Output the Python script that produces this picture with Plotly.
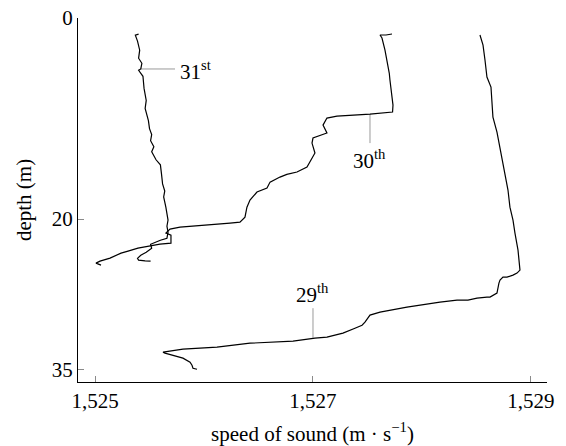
import plotly.graph_objects as go

# ---- data (speed of sound in m/s, depth in m) ----
speed_31 = [1525.40, 1525.37, 1525.39, 1525.41, 1525.40, 1525.43, 1525.42, 1525.40, 1525.44, 1525.45,
            1525.47, 1525.46, 1525.49, 1525.50, 1525.52, 1525.51, 1525.54, 1525.52, 1525.56, 1525.60,
            1525.61, 1525.62, 1525.64, 1525.63, 1525.65, 1525.66, 1525.67, 1525.66, 1525.67, 1525.66,
            1525.60, 1525.51, 1525.52, 1525.47, 1525.42, 1525.39, 1525.40, 1525.46, 1525.51]
depth_31 = [1.60, 1.70, 2.30, 3.20, 4.00, 4.50, 5.07, 5.20, 5.80, 7.00,
            8.20, 9.00, 10.20, 11.00, 11.60, 12.20, 12.80, 13.30, 14.10, 14.60,
            15.50, 16.50, 17.20, 17.80, 18.80, 19.50, 20.10, 20.70, 21.30, 21.90,
            22.10, 22.50, 22.90, 23.30, 23.60, 23.90, 24.08, 24.15, 24.18]

speed_30 = [1527.725, 1527.670, 1527.615, 1527.633, 1527.660, 1527.675, 1527.688, 1527.700, 1527.706, 1527.720,
            1527.734, 1527.730, 1527.523, 1527.220, 1527.156, 1527.128, 1527.092, 1527.128, 1527.000, 1526.991,
            1527.018, 1526.991, 1526.945, 1526.853, 1526.760, 1526.697, 1526.606, 1526.578, 1526.486, 1526.422,
            1526.394, 1526.376, 1526.330, 1526.239, 1525.780, 1525.688, 1525.651, 1525.697, 1525.697, 1525.596,
            1525.505, 1525.394, 1525.303, 1525.239, 1525.138, 1525.046, 1525.009, 1525.055]
depth_30 = [1.59, 1.69, 1.69, 1.99, 3.18, 4.00, 4.68, 5.50, 6.17, 7.66,
            8.66, 9.35, 9.55, 9.75, 9.85, 9.95, 10.65, 11.44, 11.94, 12.44,
            13.43, 13.93, 14.83, 15.32, 15.55, 15.82, 16.32, 16.92, 17.31, 18.11,
            18.81, 19.80, 20.30, 20.40, 20.80, 21.00, 21.39, 21.59, 22.39, 22.49,
            22.69, 22.89, 23.18, 23.38, 23.88, 24.18, 24.38, 24.58]

speed_29 = [1528.532, 1528.560, 1528.578, 1528.596, 1528.633, 1528.651, 1528.688, 1528.716, 1528.761, 1528.789,
            1528.807, 1528.835, 1528.853, 1528.881, 1528.890, 1528.899, 1528.872, 1528.835, 1528.780, 1528.743,
            1528.716, 1528.706, 1528.688, 1528.670, 1528.624, 1528.596, 1528.505, 1528.422, 1528.321, 1528.165,
            1527.862, 1527.615, 1527.523, 1527.477, 1527.450, 1527.385, 1527.339, 1527.275, 1527.128, 1527.018,
            1526.817, 1526.422, 1526.119, 1525.807, 1525.624, 1525.642, 1525.807, 1525.844, 1525.872, 1525.890,
            1525.899, 1525.936]
depth_29 = [1.69, 2.69, 4.18, 5.87, 6.87, 9.85, 11.34, 12.84, 15.42, 17.11,
            18.81, 20.10, 21.39, 23.08, 24.08, 25.07, 25.37, 25.57, 25.77, 25.77,
            26.07, 26.37, 27.36, 27.46, 27.76, 27.76, 27.86, 28.06, 28.06, 28.26,
            28.76, 29.25, 29.55, 30.25, 30.55, 30.85, 31.04, 31.34, 31.74, 31.84,
            32.14, 32.34, 32.74, 32.94, 33.23, 33.33, 33.83, 34.03, 34.23, 34.53,
            34.83, 34.93]

x_ticks = [1525, 1527, 1529]
x_tick_labels = ["1,525", "1,527", "1,529"]
y_ticks = [0, 20, 35]
y_tick_labels = ["0", "20", "35"]

# label pointers and label positions
label_names = ["31<sup>st</sup>", "30<sup>th</sup>", "29<sup>th</sup>"]
pointer_x = [[1525.42, 1525.734], [1527.523, 1527.523], [1527.0, 1527.0]]
pointer_y = [[5.07, 5.07], [9.55, 12.44], [31.80, 28.86]]
label_pos_x = [1525.76, 1527.523, 1527.0]
label_pos_y = [5.2, 14.1, 27.4]
label_anchor = ["left", "center", "center"]

FONT = "Liberation Serif"
FS = 21
fig = go.Figure()

for px_, py_ in zip(pointer_x, pointer_y):
    fig.add_trace(go.Scatter(x=px_, y=py_, mode="lines",
                             line=dict(color="#9a9a9a", width=1), hoverinfo="skip"))

for xs, ys in [(speed_31, depth_31), (speed_30, depth_30), (speed_29, depth_29)]:
    fig.add_trace(go.Scatter(x=xs, y=ys, mode="lines",
                             line=dict(color="black", width=1.2)))

for t, lx, ly, a in zip(label_names, label_pos_x, label_pos_y, label_anchor):
    fig.add_annotation(x=lx, y=ly, text=t, showarrow=False, xanchor=a, yanchor="middle",
                       font=dict(family=FONT, size=FS, color="black"))

axis_common = dict(showgrid=False, zeroline=False, showline=True, linecolor="black", linewidth=1,
                   ticks="inside", ticklen=6, tickcolor="#8a8a8a", tickwidth=1, automargin=False,
                   tickfont=dict(family=FONT, size=FS, color="black"))

fig.update_layout(
    width=566, height=446,
    margin=dict(l=78, r=19, t=18, b=64),
    plot_bgcolor="white", paper_bgcolor="white",
    showlegend=False,
    xaxis=dict(range=[1524.844, 1529.147], tickvals=x_ticks, ticktext=x_tick_labels,
               title=dict(text="speed of sound (m · s<sup>−1</sup>)", font=dict(family=FONT, size=FS, color="black"),
                          standoff=16),
               **axis_common),
    yaxis=dict(range=[36.2, 0], tickvals=y_ticks, ticktext=y_tick_labels,
               title=dict(text="depth (m)", font=dict(family=FONT, size=FS, color="black"), standoff=14),
               **axis_common),
)

fig.write_html("out.html")
